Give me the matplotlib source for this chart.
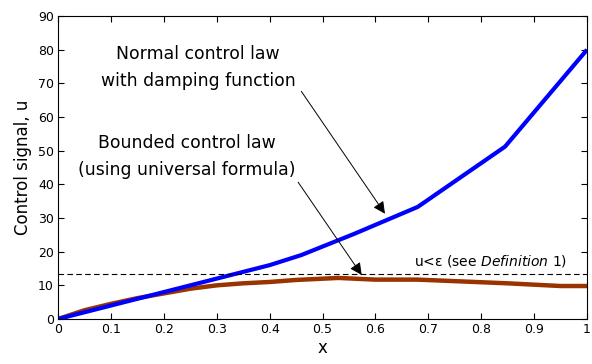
import numpy as np
import matplotlib
matplotlib.use('Agg')
import matplotlib.pyplot as plt

# values
x_normal = [0, 0.1, 0.2, 0.3, 0.4, 0.46, 0.56, 0.68, 0.845, 1.0]
u_normal = [0, 4.0, 8.0, 12.0, 16.0, 19.0, 25.3, 33.3, 51.2, 80.0]

x_bounded = [0, 0.05, 0.1, 0.15, 0.2, 0.25, 0.3, 0.35, 0.4, 0.45, 0.53, 0.6, 0.68, 0.85, 0.95, 1.0]
u_bounded = [0, 2.6, 4.5, 6.2, 7.6, 9.0, 10.0, 10.6, 11.0, 11.6, 12.2, 11.7, 11.7, 10.6, 9.8, 9.8]

eps_level = 13.3

plt.rcParams['font.family'] = ['DejaVu Sans']
plt.rcParams['mathtext.fontset'] = 'dejavusans'

fig = plt.figure(figsize=(5.92, 3.64), dpi=100)
ax = fig.add_axes([0.098, 0.1236, 0.8936, 0.8324])

ax.plot(x_bounded, u_bounded, color='#993300', lw=3.2, solid_capstyle='butt')
ax.plot(x_normal, u_normal, color='#0000ff', lw=3.0, solid_capstyle='butt')
ax.axhline(eps_level, color='k', lw=0.8, ls=(0, (5, 3)))

ax.set_xlim(0, 1)
ax.set_ylim(0, 90)
ax.set_xticks(np.arange(0, 1.01, 0.1))
ax.set_xticklabels(['0', '0.1', '0.2', '0.3', '0.4', '0.5', '0.6', '0.7', '0.8', '0.9', '1'])
ax.set_yticks(np.arange(0, 91, 10))
ax.tick_params(direction='in', top=True, right=True, labelsize=9, length=4, pad=3)
for s in ax.spines.values():
    s.set_linewidth(0.8)

ax.set_xlabel('x', fontsize=12, labelpad=2)
ax.set_ylabel('Control signal, u', fontsize=12, labelpad=4)

ax.text(0.265, 74.7, 'Normal control law\nwith damping function', ha='center', va='center',
        fontsize=12.4, linespacing=1.6)
ax.text(0.243, 48.3, 'Bounded control law\n(using universal formula)', ha='center', va='center',
        fontsize=12.4, linespacing=1.6)

ax.annotate('', xy=(0.621, 30.6), xytext=(0.457, 68.3),
            arrowprops=dict(arrowstyle='-|>', color='k', lw=0.7, mutation_scale=18))
ax.annotate('', xy=(0.577, 12.4), xytext=(0.451, 41.3),
            arrowprops=dict(arrowstyle='-|>', color='k', lw=0.7, mutation_scale=18))

ax.text(0.673, 15.0, r'u<ε (see $\it{Definition\ 1}$)', fontsize=10, ha='left', va='bottom')

fig.savefig('out.png', dpi=100)
